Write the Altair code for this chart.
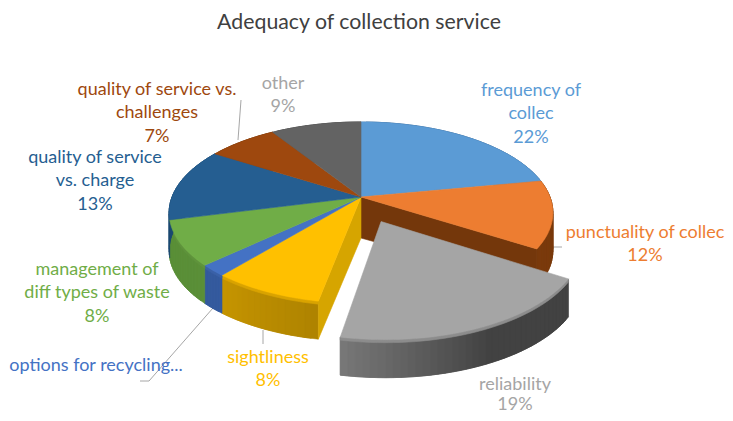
import math
import altair as alt

title_text = "Adequacy of collection service"
categories = ["frequency of collec", "punctuality of collec", "reliability", "sightliness",
              "options for recycling...", "management of diff types of waste",
              "quality of service vs. charge", "quality of service vs. challenges", "other"]
shares = [22, 12, 19, 8, 2, 8, 13, 7, 9]
top_colors = ["#5B9BD5", "#ED7D31", "#A5A5A5", "#FFC000", "#4472C4", "#70AD47", "#255E91", "#9E480E", "#636363"]
wall_colors = ["#3f6f9c", "#7a3a0c", "#555555", "#c29200", "#345a9e", "#5a8f38", "#1b4a72", "#753508", "#4a4a4a"]
label_colors = ["#5B9BD5", "#ED7D31", "#A5A5A5", "#FFC000", "#4472C4", "#70AD47", "#255E91", "#9E480E", "#A5A5A5"]
label_lines = [["frequency of", "collec", "22%"], ["punctuality of collec", "12%"], ["reliability", "19%"],
               ["sightliness", "8%"], ["options for recycling..."], ["management of", "diff types of waste", "8%"],
               ["quality of service", "vs. charge", "13%"], ["quality of service vs.", "challenges", "7%"], ["other", "9%"]]
label_x = [531, 645, 515, 268, 96, 97, 95, 157, 283]
label_y = [91, 233, 385, 358, 366, 270, 158, 90, 84]
label_gap = [23.3, 23.3, 20, 23.3, 23.3, 23.3, 23.3, 23.3, 23.3]
rim_slices = ["reliability", "sightliness", "options for recycling...", "management of diff types of waste"]
leaders = [[(241, 100), (238, 140)], [(562, 247), (553, 247), (548, 257)], [(263, 330), (263, 344)],
           [(213, 308), (149, 381), (140, 381)]]

CX, CY, A, B, P, DEPTH, EXPLODE = 361, 197, 189, 88, 0.173, 38, 0.29


def project(u, v):
    s = 1 / (1 + P * v)
    return [CX + A * u * s, CY - B * v * s]


def poly(points, fill):
    ring = [list(p) for p in points] + [list(points[0])]
    return {"type": "Feature", "geometry": {"type": "Polygon", "coordinates": [ring]}, "properties": {"fill": fill}}


def shade(hex_color, f):
    rgb = [int(hex_color[i:i + 2], 16) for i in (1, 3, 5)]
    return "#" + "".join(f"{max(0, min(255, round(c * f))):02x}" for c in rgb)


def circle_pt(angle, dx=0.0, dy=0.0):
    return project(math.sin(angle) + dx, math.cos(angle) + dy)


walls, tops, last_walls, last_tops = [], [], [], []
cum = 0
for i, share in enumerate(shares):
    a0 = cum / 100 * 2 * math.pi
    a1 = (cum + share) / 100 * 2 * math.pi
    cum += share
    mid = (a0 + a1) / 2
    exploded = categories[i] == "reliability"
    dx = 0.88 * EXPLODE * math.sin(mid) if exploded else 0.0
    dy = EXPLODE * math.cos(mid) if exploded else 0.0
    n = max(6, int(share * 2))
    pts = [circle_pt(a0 + (a1 - a0) * k / n, dx, dy) for k in range(n + 1)]
    center = project(dx, dy)
    wall_out = last_walls if exploded else walls
    for k in range(n):
        t = k / n
        if exploded:
            f = 0.78 + 0.62 * max(0, t - 0.45) * 1.9
        elif categories[i] == "sightliness":
            f = 0.9 + 0.12 * t
        else:
            f = 1.0
        end = min(n, k + 2)
        arc = pts[k:end + 1]
        q = arc + [[p[0], p[1] + DEPTH] for p in reversed(arc)]
        wall_out.append(poly(q, shade(wall_colors[i], f)))
    if categories[i] in rim_slices:
        rim = pts + [[p[0], p[1] + 3] for p in reversed(pts)]
        wall_out.append(poly(rim, shade(top_colors[i], 0.85)))
    if categories[i] == "punctuality of collec":
        e = pts[-1]
        walls.append(poly([center, e, [e[0], e[1] + DEPTH], [center[0], center[1] + DEPTH + 3]], shade(wall_colors[i], 0.95)))
    if categories[i] == "sightliness":
        e = pts[0]
        walls.append(poly([center, e, [e[0], e[1] + DEPTH], [center[0], center[1] + DEPTH + 3]], "#d6a500"))
    (last_tops if exploded else tops).append(poly([center] + pts, top_colors[i]))

lines = [{"type": "Feature", "geometry": {"type": "LineString", "coordinates": [list(p) for p in l]},
          "properties": {}} for l in leaders]

text_rows = []
for i, ls in enumerate(label_lines):
    for j, line in enumerate(ls):
        text_rows.append({"t": line, "lon": label_x[i], "lat": label_y[i] + j * label_gap[i], "c": label_colors[i]})

proj = alt.Projection(type="identity", scale=1, translate=[-8, -8])


def shapes(features):
    return alt.Chart(alt.Data(values=features)).mark_geoshape(strokeWidth=0.6).encode(
        fill=alt.Fill("properties.fill:N", scale=None),
        stroke=alt.Stroke("properties.fill:N", scale=None),
    ).project(**proj.to_dict())


leader_layer = alt.Chart(alt.Data(values=lines)).mark_geoshape(filled=False, stroke="#A6A6A6", strokeWidth=1).project(**proj.to_dict())

labels = alt.Chart(alt.Data(values=text_rows)).mark_text(font="Lato", fontSize=18, align="center", baseline="middle").encode(
    longitude="lon:Q", latitude="lat:Q", text="t:N", color=alt.Color("c:N", scale=None)
).project(**proj.to_dict())

title_row = alt.Chart(alt.Data(values=[{"t": title_text, "lon": 359, "lat": 23}])).mark_text(
    font="Lato", fontSize=21.3, align="center", baseline="middle", color="#404040"
).encode(longitude="lon:Q", latitude="lat:Q", text="t:N").project(**proj.to_dict())

chart = alt.layer(
    leader_layer, shapes(walls), shapes(tops), shapes(last_walls), shapes(last_tops), labels, title_row
).properties(width=717, height=405, padding=0, autosize=alt.AutoSizeParams(type="none")).configure_view(stroke=None)

chart.save("out.html", embed_options={"renderer": "svg", "actions": False})
